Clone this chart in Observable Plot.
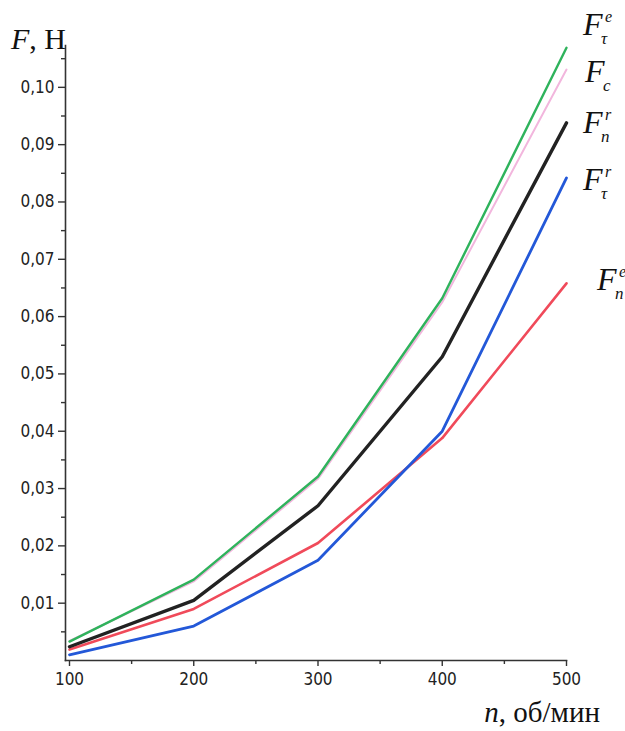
<!DOCTYPE html>
<html>
<head>
<meta charset="utf-8">
<script src="https://cdn.jsdelivr.net/npm/d3@7"></script>
<script src="https://cdn.jsdelivr.net/npm/@observablehq/plot@0.6"></script>
<style>
  html, body { margin: 0; padding: 0; background: #fff; }
  #chart { width: 625px; height: 731px; }
  .serif { font-family: "Liberation Serif", "Times New Roman", Tinos, serif !important; }
</style>
</head>
<body>
<div id="chart"></div>
<script>
// Rotation speed, rpm
const n = [100, 200, 300, 400, 500];
// Series values, N
const Fte = [0.0033, 0.0141, 0.0321, 0.0632, 0.1069]; // F_tau^e (green)
const Fc  = [0.0034, 0.0138, 0.0317, 0.0625, 0.1031]; // F_c (pink)
const Fnr = [0.0024, 0.0105, 0.0270, 0.0530, 0.0938]; // F_n^r (black)
const Ftr = [0.0010, 0.0060, 0.0175, 0.0400, 0.0842]; // F_tau^r (blue)
const Fne = [0.0019, 0.0090, 0.0205, 0.0388, 0.0658]; // F_n^e (red)

const seriesNames = ["Fte", "Fc", "Fnr", "Ftr", "Fne"];
const seriesValues = [Fte, Fc, Fnr, Ftr, Fne];
const labelSub = ["τ", "c", "n", "τ", "n"];
const labelSup = ["e", "", "r", "r", "e"];

const yTicks = [0.01, 0.02, 0.03, 0.04, 0.05, 0.06, 0.07, 0.08, 0.09, 0.10];
const yMinorTicks = [0.005, 0.015, 0.025, 0.035, 0.045, 0.055, 0.065, 0.075, 0.085, 0.095, 0.105];
const xTicks = [100, 200, 300, 400, 500];
const xMinorTicks = [150, 250, 350, 450];

const colors = {Fte: "#2fb35c", Fc: "#f2b6dd", Fnr: "#222222", Ftr: "#2358d8", Fne: "#f04a5a"};
const widths = {Fte: 2.4, Fc: 2, Fnr: 3.4, Ftr: 2.8, Fne: 2.6};
const order = ["Fc", "Fte", "Fne", "Ftr", "Fnr"];

const rows = [];
seriesNames.forEach((s, i) => n.forEach((x, j) => rows.push({series: s, n: x, F: seriesValues[i][j]})));

const tickFont = "'Liberation Sans Narrow', 'Arial Narrow', 'DejaVu Sans Condensed', sans-serif";

const plot = Plot.plot({
  width: 625,
  height: 731,
  marginLeft: 65,
  marginRight: 59,
  marginTop: 45,
  marginBottom: 71,
  style: {fontFamily: tickFont, fontSize: "17px", color: "#222", background: "#fff"},
  x: {domain: [100, 500], insetLeft: 4, label: null},
  y: {domain: [0, 0.1073], label: null},
  marks: [
    Plot.frame({anchor: "left", stroke: "#333", strokeWidth: 1.6}),
    Plot.frame({anchor: "bottom", stroke: "#333", strokeWidth: 1.6}),
    Plot.axisY({ticks: yTicks, tickSize: 7, tickPadding: 4, tickFormat: d => d.toFixed(2).replace(".", ","), stroke: "#333", strokeWidth: 1.4, label: null}),
    Plot.axisY({ticks: yMinorTicks, tickSize: 4, text: null, stroke: "#333", strokeWidth: 1.4, label: null}),
    Plot.axisX({ticks: xTicks, tickSize: 6, tickPadding: 6, tickFormat: d => String(d), stroke: "#333", strokeWidth: 1.4, label: null}),
    Plot.axisX({ticks: xMinorTicks, tickSize: 4, text: null, stroke: "#333", strokeWidth: 1.4, label: null}),
    ...order.map(s => Plot.line(rows.filter(r => r.series === s), {
      x: "n", y: "F", stroke: colors[s], strokeWidth: widths[s], strokeLinejoin: "round", strokeLinecap: "round"
    }))
  ]
});

document.getElementById("chart").appendChild(plot);

const svg = d3.select(plot);
const xs = plot.scale("x"), ys = plot.scale("y");

// Axis titles
const yt = svg.append("text").attr("class", "serif").attr("x", 11).attr("y", 49)
  .attr("text-anchor", "start").attr("font-size", 30).attr("fill", "#111");
yt.append("tspan").attr("font-style", "italic").text("F");
yt.append("tspan").text(", Н");

const xt = svg.append("text").attr("class", "serif").attr("x", 600).attr("y", 722)
  .attr("text-anchor", "end").attr("font-size", 29).attr("fill", "#111");
xt.append("tspan").attr("font-style", "italic").text("n");
xt.append("tspan").text(", об/мин");

// Series labels next to the line ends
const ldx = [17, 19, 17, 17, 31];
const ldy = [-12, 13, 11, 13, 7];
seriesNames.forEach((s, i) => {
  const vals = seriesValues[i];
  const x0 = xs.apply(n[n.length - 1]) + ldx[i];
  const y0 = ys.apply(vals[vals.length - 1]) + ldy[i];
  const g = svg.append("g").attr("class", "serif").attr("font-style", "italic").attr("fill", "#111").attr("text-anchor", "start");
  g.append("text").attr("class", "serif").attr("x", x0).attr("y", y0).attr("font-size", 32).text("F");
  if (labelSub[i]) g.append("text").attr("class", "serif").attr("x", x0 + 18).attr("y", y0 + 9).attr("font-size", 17).text(labelSub[i]);
  if (labelSup[i]) g.append("text").attr("class", "serif").attr("x", x0 + 22).attr("y", y0 - 13).attr("font-size", 16).text(labelSup[i]);
});
</script>
</body>
</html>
